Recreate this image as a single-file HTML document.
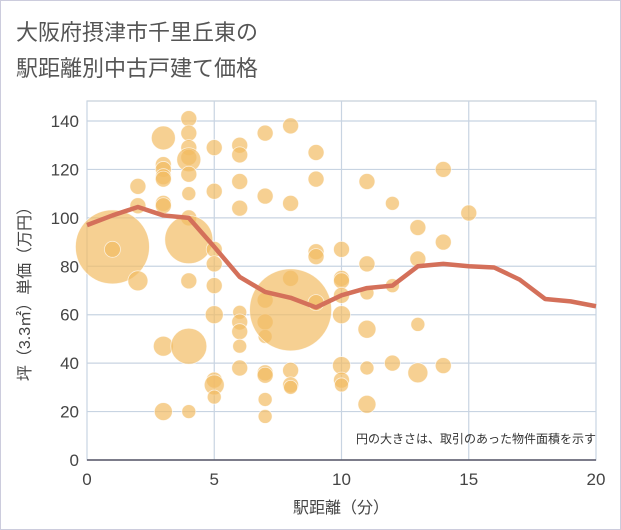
<!DOCTYPE html>
<html><head><meta charset="utf-8"><style>
body{margin:0;background:#fff;}
svg{display:block;font-family:"Liberation Sans","Noto Sans CJK JP",sans-serif;}
</style></head><body>
<svg id="chart" width="621" height="530">
<rect x="0.5" y="0.5" width="620" height="529" fill="#fff" stroke="#ccd"/>
<text x="16" y="40" font-size="22" fill="#555">大阪府摂津市千里丘東の</text>
<text x="16" y="76" font-size="22" fill="#555">駅距離別中古戸建て価格</text>
<g id="grid"></g><g id="bubbles"></g><g id="line"></g><g id="axes"></g>
<text x="596" y="443" font-size="12" fill="#333" text-anchor="end">円の大きさは、取引のあった物件面積を示す</text>
<text x="341" y="513" font-size="16" fill="#444" text-anchor="middle">駅距離（分）</text>
<text transform="translate(30,290) rotate(-90)" font-size="16" fill="#444" text-anchor="middle">坪（3.3㎡）単価（万円）</text>
</svg>
<script>
const xTicks=[0,5,10,15,20];
const yTicks=[0,20,40,60,80,100,120,140];
const bubbleX=[1,1,2,2,2,3,3,3,3,3,3,3,3,3,4,4,4,4,4,4,4,4,4,4,4,4,5,5,5,5,5,5,5,5,5,6,6,6,6,6,6,6,6,6,7,7,7,7,7,7,7,7,7,8,8,8,8,8,8,8,9,9,9,9,9,10,10,10,10,10,10,10,10,11,11,11,11,11,11,12,12,12,13,13,13,13,14,14,14,15];
const bubbleY=[88,87,113,105,74,133,122,120,117,116,106,105,47,20,141,135,129,125,124,118,110,100,91,74,47,20,129,111,87,81,72,60,33,31,26,130,126,115,104,61,57,53,47,38,135,109,66,57,51,36,35,25,18,138,106,75,62,37,31,30,127,116,86,84,65,87,75,74,68,60,39,33,31,115,81,69,54,38,23,106,72,40,96,83,56,36,120,90,39,102];
const bubbleR=[37,8,8,8,10,12,8,8,8,8,8,8,10,9,8,8,8,8,12,8,7,8,24,8,18,7,8,8,8,8,8,9,8,10,7,8,8,8,8,7,8,8,7,8,8,8,8,8,7,8,8,7,7,8,8,8,41,8,8,7,8,8,8,8,8,8,8,8,8,9,9,8,7,8,8,7,9,7,9,7,7,8,8,8,7,10,8,8,8,8];
const lineX=[0,1,2,3,4,5,6,7,8,9,10,11,12,13,14,15,16,17,18,19,20];
const lineY=[97,101,104.5,101,100,88,75.6,69.4,67,63,68,71,72,80,81,80,79.5,74.5,66.5,65.5,63.5];
const X0=87,X1=596,Y0=460,Y1=121;
const sx=v=>X0+(X1-X0)*v/20, sy=v=>Y0-(Y0-Y1)*v/140;
const NS='http://www.w3.org/2000/svg';
function mk(t,a,p){const e=document.createElementNS(NS,t);for(const k in a)e.setAttribute(k,a[k]);p.appendChild(e);return e;}
const grid=document.getElementById('grid'),axes=document.getElementById('axes');
const pr=mk('rect',{x:X0,y:101,width:X1-X0,height:Y0-101,fill:'#fff',stroke:'#b8c4d2'},grid);


yTicks.forEach(t=>{const l=mk('line',{x1:X0,x2:X1,y1:sy(t),y2:sy(t),stroke:'#c8d4e2','stroke-width':1.2},grid);


const tx=mk('text',{x:X0-8,y:sy(t)+6,'font-size':17,fill:'#444','text-anchor':'end'},axes);tx.textContent=t;

});
xTicks.forEach(t=>{const l=mk('line',{x1:sx(t),x2:sx(t),y1:101,y2:Y0,stroke:'#c8d4e2','stroke-width':1.2},grid);


const tx=mk('text',{x:sx(t),y:485,'font-size':17,fill:'#444','text-anchor':'middle'},axes);tx.textContent=t;

});
const ax=mk('line',{x1:X0,x2:X1,y1:Y0,y2:Y0,stroke:'#556',"stroke-width":1.5},axes);


const bg=document.getElementById('bubbles');
bubbleX.forEach((x,i)=>{const c=mk('circle',{cx:sx(x),cy:sy(bubbleY[i]),r:bubbleR[i],fill:'rgba(242,188,100,0.7)',stroke:'rgba(255,255,255,0.7)','stroke-width':0.8},bg);

});
const p=mk('polyline',{points:lineX.map((x,i)=>sx(x)+','+sy(lineY[i])).join(' '),fill:'none',stroke:'#d4705a','stroke-width':4.5,'stroke-linejoin':'round'},document.getElementById('line'));


</script>
</body></html>
